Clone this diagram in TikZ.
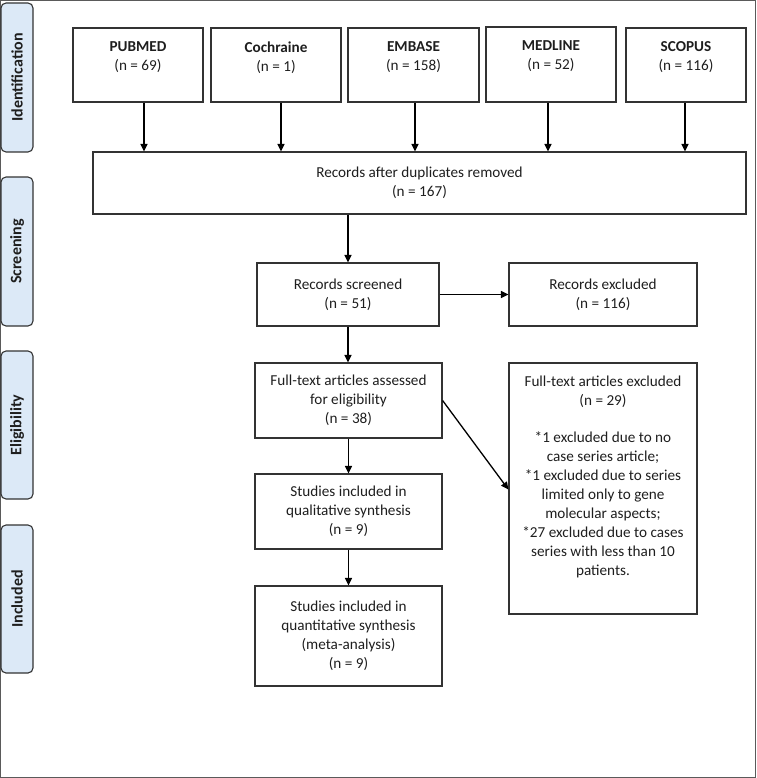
\documentclass[tikz,border=0pt]{standalone}
\usepackage{fontspec}
\setmainfont{Carlito}
\usetikzlibrary{arrows.meta}
\definecolor{framec}{HTML}{5A5A5A}
\definecolor{edgec}{HTML}{333333}
\definecolor{tabfill}{HTML}{DCE9F7}
\definecolor{inkc}{HTML}{1E1E1E}
\newcommand{\mytop}[4]{\parbox[c][#2][t]{#1}{\centering\vspace*{#3}#4\par}}
\newcommand{\mycen}[3]{\parbox[c][#2][c]{#1}{\centering #3\par}}
\begin{document}
\begin{tikzpicture}[x=1pt,y=-1pt,
  box/.style={draw=edgec, line width=1.2pt, inner sep=0pt, text=inkc, font=\fontsize{15.2}{19}\selectfont},
  tab/.style={draw=edgec, fill=tabfill, line width=1.1pt, rounded corners=5pt, minimum height=32pt, inner sep=0pt, text=inkc, font=\bfseries\fontsize{16}{19}\selectfont, rotate=90},
  arr/.style={draw=black, line width=1.3pt, -{Triangle[length=7.5pt,width=7pt]}}]
\useasboundingbox (0,0) rectangle (756,778);
\draw[framec, line width=1.2pt] (0.6,0.6) rectangle (755.4,777.4);

% phase tabs
\node[tab, minimum width=149pt] (tid) at (17,77.5) {Identification};
\node[tab, minimum width=149pt] (tscr) at (17,251.5) {Screening};
\node[tab, minimum width=148pt] (telig) at (17,425) {Eligibility};
\node[tab, minimum width=148pt] (tinc) at (17,599) {Included};

% sources
\node[box] (pubmed) at (138,65) {\mytop{130pt}{74pt}{14pt}{{\bfseries PUBMED}\\(n = 69)}};
\node[box] (cochr) at (276,65) {\mytop{130pt}{74pt}{14pt}{{\bfseries Cochraine}\\(n = 1)}};
\node[box] (embase) at (413.5,65) {\mytop{131pt}{74pt}{14pt}{{\bfseries EMBASE}\\(n = 158)}};
\node[box] (medline) at (551,64.5) {\mytop{130pt}{75pt}{14pt}{{\bfseries MEDLINE}\\(n = 52)}};
\node[box] (scopus) at (686,65) {\mytop{120pt}{74pt}{14pt}{{\bfseries SCOPUS}\\(n = 116)}};

\node[box] (dup) at (419.5,183) {\mycen{653pt}{62pt}{Records after duplicates removed\\(n = 167)}};

\node[box] (screened) at (348,294.5) {\mycen{182pt}{63pt}{Records screened\\(n = 51)}};
\node[box] (excl1) at (603,294.5) {\mycen{188pt}{63pt}{Records excluded\\(n = 116)}};

\node[box] (fulltext) at (348.5,400.5) {\mycen{187pt}{75pt}{Full-text articles assessed\\for eligibility\\(n = 38)}};
\node[box] (excl2) at (603,488.5) {\mytop{188pt}{251pt}{13pt}{Full-text articles excluded\\(n = 29)\\[18pt]{}*1 excluded due to no\\case series article;\\{}*1 excluded due to series\\limited only to gene\\molecular aspects;\\{}*27 excluded due to cases\\series with less than 10\\patients.}};

\node[box] (qual) at (348.5,511.5) {\mycen{187pt}{75pt}{Studies included in\\qualitative synthesis\\(n = 9)}};
\node[box] (quant) at (348.5,636) {\mycen{187pt}{100pt}{Studies included in\\quantitative synthesis\\(meta-analysis)\\(n = 9)}};

% connectors
\draw[arr] ([xshift=6pt]pubmed.south) -- ([xshift=6pt]pubmed.south |- dup.north);
\draw[arr] ([xshift=5pt]cochr.south) -- ([xshift=5pt]cochr.south |- dup.north);
\draw[arr] ([xshift=1.5pt]embase.south) -- ([xshift=1.5pt]embase.south |- dup.north);
\draw[arr] ([xshift=-3pt]medline.south) -- ([xshift=-3pt]medline.south |- dup.north);
\draw[arr] ([xshift=-1pt]scopus.south) -- ([xshift=-1pt]scopus.south |- dup.north);
\draw[arr] (dup.south -| screened.north) -- (screened.north);
\draw[arr] (screened.east) -- (excl1.west);
\draw[arr] (screened.south) -- (screened.south |- fulltext.north);
\draw[arr] (fulltext.east) -- ([yshift=-1pt]excl2.west);
\draw[arr] (fulltext.south) -- (qual.north);
\draw[arr] (qual.south) -- (quant.north);
\end{tikzpicture}
\end{document}
